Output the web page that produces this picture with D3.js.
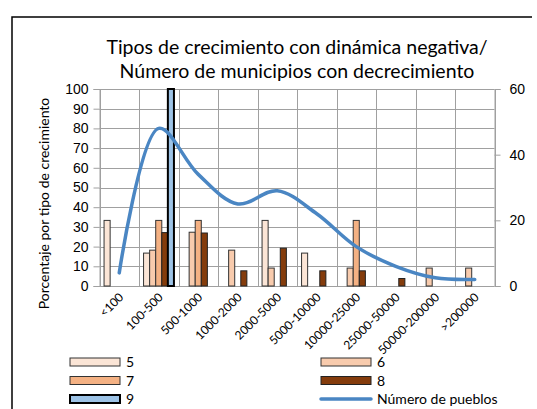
<!DOCTYPE html>
<html>
<head>
<meta charset="utf-8">
<script src="https://cdn.jsdelivr.net/npm/d3@7"></script>
<style>
  body { margin: 0; background: #fff; }
  svg { font-family: Lato, "Open Sans", sans-serif; }
</style>
</head>
<body>
<div id="chart"></div>
<script>
// categorias de tamano de municipio
var categories = ["<100", "100-500", "500-1000", "1000-2000", "2000-5000", "5000-10000",
                  "10000-25000", "25000-50000", "50000-200000", ">200000"];

// porcentaje por tipo de crecimiento (series 5..9)
var serie5 = [33.3, 16.7, 0, 0, 33.3, 16.7, 0, 0, 0, 0];
var serie6 = [0, 18.2, 27.3, 18.2, 9.1, 0, 9.1, 0, 9.1, 9.1];
var serie7 = [0, 33.3, 33.3, 0, 0, 0, 33.3, 0, 0, 0];
var serie8 = [0, 27.1, 26.9, 7.7, 19.2, 7.7, 7.7, 3.8, 0, 0];
var serie9 = [0, 100, 0, 0, 0, 0, 0, 0, 0, 0];

// numero de pueblos (eje derecho)
var pueblos = [4, 48, 34, 25, 29, 22, 12, 6, 2.5, 2];

var seriesNames = ["5", "6", "7", "8", "9"];
var leftTicks = [0, 10, 20, 30, 40, 50, 60, 70, 80, 90, 100];
var rightTicks = [0, 20, 40, 60];

var seriesData = [serie5, serie6, serie7, serie8, serie9];
var colors = ["#FBE5D6", "#F8CBAD", "#F4B183", "#843C0C", "#9DC3E6"];
var strokes = ["#333", "#333", "#333", "#222", "#000"];
var strokeW = [1, 1, 1, 1, 2];

var width = 537, height = 409;
var plot = { left: 99.5, right: 494.5, top: 89, bottom: 286 };

var svg = d3.select("#chart").append("svg")
  .attr("width", width)
  .attr("height", height);

// marco del grafico (solo arriba e izquierda visibles)
svg.append("path")
  .attr("d", "M12,420 L12,17 L532,17")
  .attr("fill", "none")
  .attr("stroke", "#000")
  .attr("stroke-width", 1.5);

var x = d3.scaleBand()
  .domain(categories)
  .range([plot.left, plot.right])
  .padding(0);

// ancho de barra: 5 barras + 1.5 de hueco (gap 150%)
var barW = x.bandwidth() / 6.5;
var xInner = d3.scaleBand()
  .domain(seriesNames)
  .range([barW * 0.75, barW * 5.75])
  .padding(0);

var yL = d3.scaleLinear().domain([0, 100]).range([plot.bottom, plot.top]);
var yR = d3.scaleLinear().domain([0, 60]).range([plot.bottom, plot.top]);

// rejilla
svg.append("g")
  .selectAll("line")
  .data(leftTicks)
  .enter()
  .append("line")
  .attr("x1", plot.left)
  .attr("x2", plot.right)
  .attr("y1", function(d) { return Math.round(yL(d)) + 0.5; })
  .attr("y2", function(d) { return Math.round(yL(d)) + 0.5; })
  .attr("stroke", "#A0A0A0")
  .attr("stroke-width", 1);

svg.append("g")
  .selectAll("line")
  .data(d3.range(categories.length + 1))
  .enter()
  .append("line")
  .attr("x1", function(i) { return Math.round(plot.left + i * x.step()) + 0.5; })
  .attr("x2", function(i) { return Math.round(plot.left + i * x.step()) + 0.5; })
  .attr("y1", plot.top)
  .attr("y2", plot.bottom)
  .attr("stroke", "#A0A0A0")
  .attr("stroke-width", 1);

// eje izquierdo
var axisL = svg.append("g")
  .attr("transform", "translate(" + plot.left + ",0)")
  .call(d3.axisLeft(yL).tickValues(leftTicks).tickSize(6).tickPadding(5));
axisL.select(".domain").attr("stroke", "#A0A0A0");
axisL.selectAll(".tick line").attr("stroke", "#A0A0A0");
axisL.selectAll("text").attr("font-size", 14).attr("fill", "#000").attr("font-family", null);

// eje derecho
var axisR = svg.append("g")
  .attr("transform", "translate(" + plot.right + ",0)")
  .call(d3.axisRight(yR).tickValues(rightTicks).tickSize(6).tickPadding(9));
axisR.select(".domain").attr("stroke", "#A0A0A0");
axisR.selectAll(".tick line").attr("stroke", "#A0A0A0");
axisR.selectAll("text").attr("font-size", 14).attr("fill", "#000").attr("font-family", null);

// barras
seriesData.forEach(function(values, s) {
  var pts = values.map(function(v, i) { return { cat: categories[i], v: v }; })
    .filter(function(d) { return d.v > 0; });
  svg.append("g")
    .selectAll("rect")
    .data(pts)
    .enter()
    .append("rect")
    .attr("x", function(d) { return x(d.cat) + xInner(seriesNames[s]); })
    .attr("y", function(d) { return yL(d.v); })
    .attr("width", xInner.bandwidth())
    .attr("height", function(d) { return plot.bottom - yL(d.v); })
    .attr("fill", colors[s])
    .attr("stroke", strokes[s])
    .attr("stroke-width", strokeW[s]);
});

// linea suavizada
var line = d3.line()
  .x(function(d, i) { return x(categories[i]) + x.bandwidth() / 2; })
  .y(function(d) { return yR(d); })
  .curve(d3.curveCatmullRom.alpha(0.5));

svg.append("path")
  .datum(pueblos)
  .attr("d", line)
  .attr("fill", "none")
  .attr("stroke", "#4A86C3")
  .attr("stroke-width", 3.5)
  .attr("stroke-linecap", "round");

// etiquetas eje x
svg.append("g")
  .selectAll("text")
  .data(categories)
  .enter()
  .append("text")
  .attr("transform", function(d) {
    return "translate(" + (x(d) + x.bandwidth() / 2 + 5) + "," + (plot.bottom + 12) + ") rotate(-45)";
  })
  .attr("text-anchor", "end")
  .attr("font-size", 12)
  .text(function(d) { return d; });

// titulo
svg.append("text")
  .attr("x", 297)
  .attr("y", 54)
  .attr("text-anchor", "middle")
  .attr("font-size", 19.5)
  .text("Tipos de crecimiento con dinámica negativa/");
svg.append("text")
  .attr("x", 297)
  .attr("y", 78)
  .attr("text-anchor", "middle")
  .attr("font-size", 19.5)
  .text("Número de municipios con decrecimiento");

// titulo eje y
svg.append("text")
  .attr("transform", "translate(49," + ((plot.top + plot.bottom) / 2 + 16) + ") rotate(-90)")
  .attr("text-anchor", "middle")
  .attr("font-size", 14)
  .text("Porcentaje por tipo de crecimiento");

// leyenda
var legendItems = [
  { name: "5", col: 0, row: 0, type: "bar", s: 0 },
  { name: "6", col: 1, row: 0, type: "bar", s: 1 },
  { name: "7", col: 0, row: 1, type: "bar", s: 2 },
  { name: "8", col: 1, row: 1, type: "bar", s: 3 },
  { name: "9", col: 0, row: 2, type: "bar", s: 4 },
  { name: "Número de pueblos", col: 1, row: 2, type: "line" }
];
var legend = svg.append("g");
legendItems.forEach(function(it) {
  var lx = it.col === 0 ? 70 : 321;
  var ly = 362 + it.row * 18.5;
  if (it.type === "bar") {
    legend.append("rect")
      .attr("x", lx).attr("y", ly - 4)
      .attr("width", 50).attr("height", 8)
      .attr("fill", colors[it.s])
      .attr("stroke", strokes[it.s])
      .attr("stroke-width", strokeW[it.s]);
  } else {
    legend.append("line")
      .attr("x1", lx).attr("x2", lx + 50)
      .attr("y1", ly).attr("y2", ly)
      .attr("stroke", "#4A86C3")
      .attr("stroke-width", 3.5)
      .attr("stroke-linecap", "round");
  }
  legend.append("text")
    .attr("x", lx + 56)
    .attr("y", ly + 5)
    .attr("font-size", 14)
    .text(it.name);
});
</script>
</body>
</html>
